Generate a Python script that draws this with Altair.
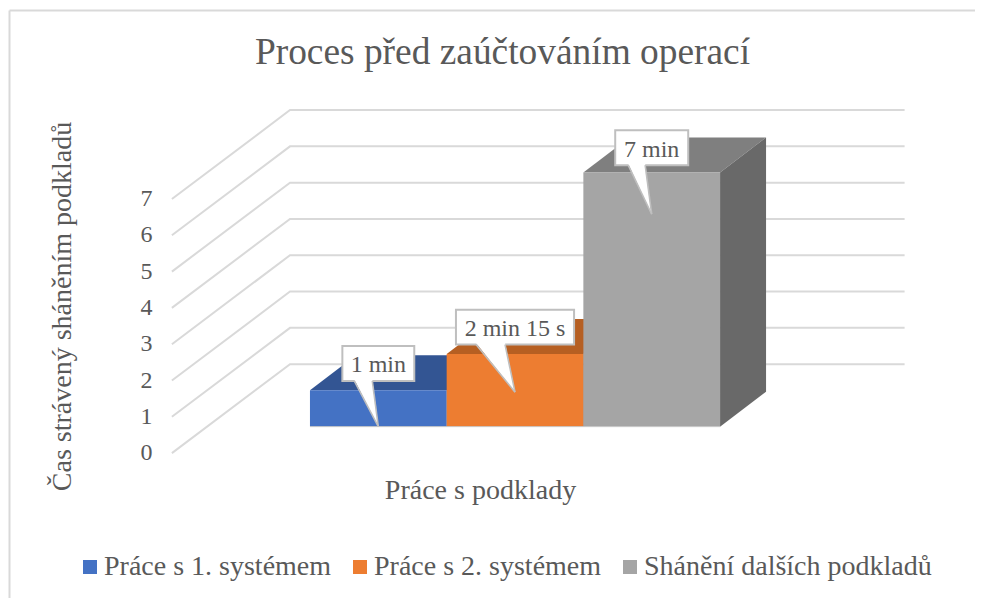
import altair as alt
import pandas as pd

TITLE = "Proces před zaúčtováním operací"
X_TITLE = "Práce s podklady"
Y_TITLE = "Čas strávený sháněním podkladů"
SERIES = ["Práce s 1. systémem", "Práce s 2. systémem", "Shánění dalších podkladů"]
VALUES = [1, 2, 7]
LABELS = ["1 min", "2 min 15 s", "7 min"]
TICKS = [0, 1, 2, 3, 4, 5, 6, 7]
FRONT = ["#4472c4", "#ed7d31", "#a5a5a5"]
TOP = ["#335593", "#b65f22", "#7f7f7f"]
SIDE = ["#2a4a85", "#9c5120", "#696969"]

# callout geometry in axis units (bar slots on x, value units on y)
BOX_Y = [1.74, 2.74, 7.68]
BOX_HALF_W = [0.263, 0.432, 0.267]
BOX_HALF_H = 0.48
TAIL_L = [-0.176, -0.285, -0.172]
TAIL_R = [-0.044, -0.073, -0.048]
TIP_Y = [0.0, 0.95, 5.85]

# pseudo-3D depth
BAR_DX, BAR_DY = 0.3365, 0.964
WALL_LEFT, WALL_BACK, WALL_RIGHT = -1.01, -0.146, 4.35
FLOOR_FRONT, FLOOR_BACK = -0.73, 1.72

W, H = 967, 590
X_DOM = [-2.209, 4.865]
Y_DOM = [-4.72, 11.53]
FONT = "Liberation Serif"
TXT = "#595959"
GRID = "#d9d9d9"

xs = alt.Scale(domain=X_DOM, range=[0, W], nice=False, zero=False)
ys = alt.Scale(domain=Y_DOM, range=[H, 0], nice=False, zero=False)
colors = alt.Scale(domain=SERIES, range=FRONT)

x_axis = alt.Axis(title=X_TITLE, labels=False, ticks=False, domain=False, grid=False,
                  titleFont=FONT, titleFontSize=28, titleColor=TXT, titleFontWeight="normal",
                  titleX=472, titleY=-108, titleAlign="center", titleBaseline="middle")
y_axis = alt.Axis(title=Y_TITLE, values=TICKS, ticks=False, domain=False, grid=False, format="d",
                  labelFont=FONT, labelFontSize=24, labelColor=TXT, labelOffset=26, labelPadding=0,
                  offset=-144, tickSize=0,
                  titleFont=FONT, titleFontSize=28, titleColor=TXT, titleFontWeight="normal",
                  titleAngle=270, titleX=-90, titleY=298, titleAlign="center", titleBaseline="middle")


def X(f="x"):
    return alt.X(f"{f}:Q", scale=xs, axis=x_axis)


def Y(f="y"):
    return alt.Y(f"{f}:Q", scale=ys, axis=y_axis, stack=None)


layers = []

# walls' gridlines
rows = []
for t in TICKS:
    rows += [
        {"t": t, "i": 0, "x": WALL_LEFT, "y": FLOOR_FRONT + t},
        {"t": t, "i": 1, "x": WALL_BACK, "y": FLOOR_BACK + t},
        {"t": t, "i": 2, "x": WALL_RIGHT, "y": FLOOR_BACK + t},
    ]
layers.append(
    alt.Chart(pd.DataFrame(rows)).mark_line(color=GRID, strokeWidth=2, clip=False).encode(
        x=X(), y=Y(), detail="t:N", order="i:Q",
    )
)

# bars
for k, (name, v) in enumerate(zip(SERIES, VALUES)):
    top = pd.DataFrame({
        "y": [v, v + BAR_DY],
        "x": [k, k + BAR_DX],
        "x2": [k + 1, k + 1 + BAR_DX],
    })
    layers.append(alt.Chart(top).mark_area(orient="horizontal", color=TOP[k]).encode(
        y=Y(), x=X(), x2="x2:Q"))
    side = pd.DataFrame({
        "x": [k + 1, k + 1 + BAR_DX],
        "y": [0, BAR_DY],
        "y2": [v, v + BAR_DY],
    })
    layers.append(alt.Chart(side).mark_area(color=SIDE[k]).encode(
        x=X(), y=Y(), y2="y2:Q"))
    front = pd.DataFrame({"series": [name], "x": [k], "x2": [k + 1], "y": [0], "y2": [v]})
    layers.append(alt.Chart(front).mark_rect().encode(
        x=X(), x2="x2:Q", y=Y(), y2="y2:Q",
        color=alt.Color("series:N", scale=colors, legend=alt.Legend(
            orient="none", legendX=68, legendY=545, direction="horizontal", title=None,
            symbolType="square", symbolSize=196, symbolStrokeWidth=0,
            labelFont=FONT, labelFontSize=28, labelColor=TXT, labelOffset=0, labelLimit=400,
            columnPadding=14, padding=0)),
    ))

base = pd.DataFrame({"x": [0], "x2": [len(VALUES)], "y": [0]})
layers.append(alt.Chart(base).mark_rule(color="#c8c8c8", strokeWidth=1).encode(
    x=X(), x2="x2:Q", y=Y()))

# callouts
for k, lab in enumerate(LABELS):
    c = k + 0.5
    box = pd.DataFrame({"x": [c - BOX_HALF_W[k]], "x2": [c + BOX_HALF_W[k]],
                        "y": [BOX_Y[k] - BOX_HALF_H], "y2": [BOX_Y[k] + BOX_HALF_H]})
    layers.append(alt.Chart(box).mark_rect(fill="white", stroke="#bfbfbf", strokeWidth=2).encode(
        x=X(), x2="x2:Q", y=Y(), y2="y2:Q"))
    y_top = BOX_Y[k] - BOX_HALF_H
    tail = pd.DataFrame({"y": [y_top + 0.04, TIP_Y[k]],
                         "x": [c + TAIL_L[k], c], "x2": [c + TAIL_R[k], c]})
    layers.append(alt.Chart(tail).mark_area(orient="horizontal", color="white").encode(
        y=Y(), x=X(), x2="x2:Q"))
    for side_off in (TAIL_L[k], TAIL_R[k]):
        edge = pd.DataFrame({"x": [c + side_off, c], "y": [y_top, TIP_Y[k]]})
        layers.append(alt.Chart(edge).mark_line(color="#bfbfbf", strokeWidth=1.6).encode(
            x=X(), y=Y(), order=alt.Order("y:Q", sort="descending")))
    txt = pd.DataFrame({"x": [c], "y": [BOX_Y[k]], "t": [lab]})
    layers.append(alt.Chart(txt).mark_text(font=FONT, fontSize=24, color=TXT, baseline="middle", dy=2).encode(
        x=X(), y=Y(), text="t:N"))

# outer chart border
layers.append(alt.Chart(pd.DataFrame({"a": [0]})).mark_rule(color=GRID, strokeWidth=2, clip=False).encode(
    x=alt.value(1.5), y=alt.value(2.5), y2=alt.value(H)))
layers.append(alt.Chart(pd.DataFrame({"a": [0]})).mark_rule(color=GRID, strokeWidth=2, clip=False).encode(
    x=alt.value(1.5), x2=alt.value(W), y=alt.value(2.5)))

chart = (
    alt.layer(*layers)
    .properties(
        width=W, height=H, padding=0, autosize=alt.AutoSizeParams(type="none"),
        title=alt.TitleParams(TITLE, font=FONT, fontSize=37.4, color=TXT, fontWeight="normal",
                              anchor="middle", dy=67, dx=11),
    )
    .configure_view(stroke=None)
)
chart.save("out.html", embed_options={"renderer": "svg", "actions": False})
